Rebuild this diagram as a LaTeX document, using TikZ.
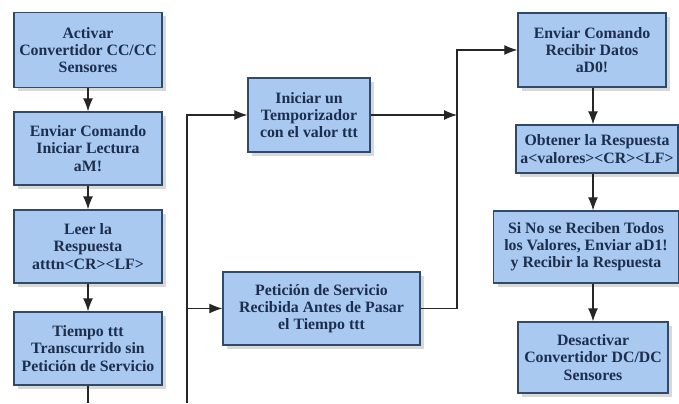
\documentclass[tikz,border=0pt]{standalone}
\usepackage{fontspec}
\setmainfont{Liberation Serif}
\usetikzlibrary{shadows,arrows.meta}
\definecolor{cajaazul}{HTML}{A9C9F1}
\definecolor{bordeazul}{HTML}{2F4A6A}
\definecolor{textoazul}{HTML}{1C2E4C}
\begin{document}
\begin{tikzpicture}[>={Latex[length=2.6mm,width=2mm]},
  caja/.style={draw=bordeazul, thick, fill=cajaazul, align=center, inner sep=1pt,
    text=textoazul, font=\fontsize{9}{9.8}\selectfont\bfseries,
    drop shadow={shadow xshift=0.08, shadow yshift=-0.08, fill=gray!60}},
  flecha/.style={->, semithick, black!85}]
\useasboundingbox (0,0) rectangle (13.58,8.06);
% Columna izquierda
\node[caja, minimum width=2.96cm, minimum height=1.5cm] (b1) at (1.76,7.06) {Activar\\Convertidor CC/CC\\Sensores};
\node[caja, minimum width=2.96cm, minimum height=1.46cm] (b2) at (1.76,5.09) {Enviar Comando\\Iniciar Lectura\\aM!};
\node[caja, minimum width=2.96cm, minimum height=1.46cm] (b3) at (1.76,3.13) {Leer la\\Respuesta\\atttn<CR><LF>};
\node[caja, minimum width=2.96cm, minimum height=1.46cm] (b4) at (1.76,1.09) {Tiempo ttt\\Transcurrido sin\\Petición de Servicio};
% Columna central
\node[caja, minimum width=2.44cm, minimum height=1.48cm] (b5) at (6.18,5.76) {Iniciar un\\Temporizador\\con el valor ttt};
\node[caja, minimum width=3.94cm, minimum height=1.46cm] (b6) at (6.43,1.89) {Petición de Servicio\\Recibida Antes de Pasar\\el Tiempo ttt};
% Columna derecha
\node[caja, minimum width=2.96cm, minimum height=1.48cm] (b7) at (11.84,7.06) {Enviar Comando\\Recibir Datos\\aD0!};
\node[caja, minimum width=3.24cm, minimum height=0.96cm] (b8) at (11.94,5.08) {Obtener la Respuesta\\a<valores><CR><LF>};
\node[caja, minimum width=3.7cm, minimum height=1.44cm] (b9) at (11.72,3.12) {Si No se Reciben Todos\\los Valores, Enviar aD1!\\y Recibir la Respuesta};
\node[caja, minimum width=3.0cm, minimum height=1.42cm] (b10) at (11.86,0.91) {Desactivar\\Convertidor DC/DC\\Sensores};
% Puntos de union
\coordinate (ifin) at (1.76,0);
\coordinate (ibus) at (3.74,0);
\coordinate (dbus) at (9.14,5.76);
% Conectores
\draw[flecha] (b1) -- (b2);
\draw[flecha] (b2) -- (b3);
\draw[flecha] (b3) -- (b4);
\draw[semithick, black!85] (b4) -- (ifin);
\draw[flecha] (ibus) |- (b5.west);
\draw[flecha] (ibus |- b6.west) -- (b6.west);
\draw[flecha] (b5.east) -- (dbus);
\draw[flecha] (b6.east) -| (dbus) |- (b7.west);
\draw[flecha] (b7.south -| 11.86,0) -- (b8.north -| 11.86,0);
\draw[flecha] (b8.south -| 11.86,0) -- (b9.north -| 11.86,0);
\draw[flecha] (b9.south -| 11.86,0) -- (b10.north -| 11.86,0);
\end{tikzpicture}
\end{document}
